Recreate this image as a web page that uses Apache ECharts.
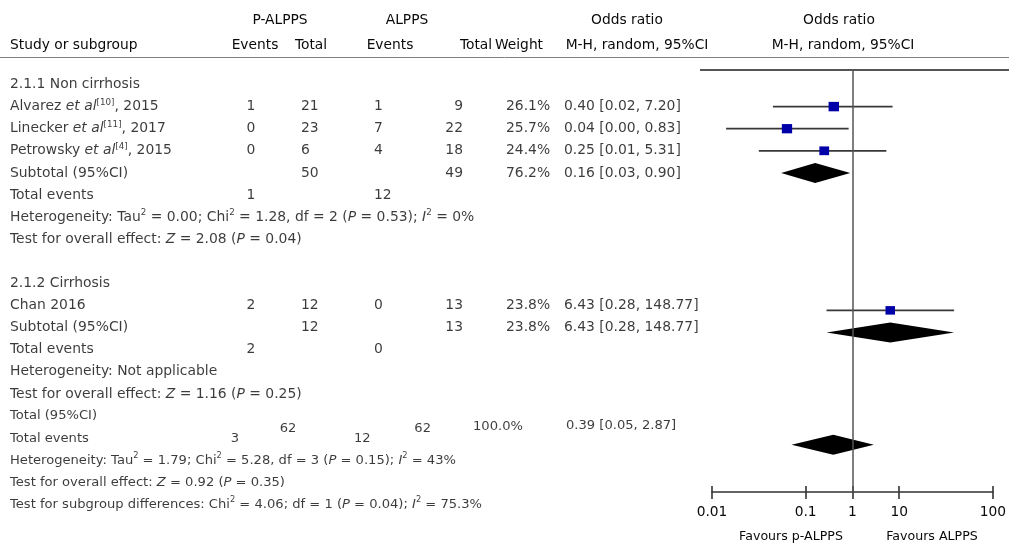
<!DOCTYPE html>
<html><head><meta charset="utf-8">
<script src="https://cdn.jsdelivr.net/npm/echarts@6/dist/echarts.min.js"></script>
<style>html,body{margin:0;padding:0;background:#fff}#c{width:1009px;height:543px}</style>
</head><body><div id="c"></div>
<script>
// ---------------- data ----------------
const studyNames = ['Alvarez {i|et al}{s|[10]}, 2015', 'Linecker {i|et al}{s|[11]}, 2017', 'Petrowsky {i|et al}{s|[4]}, 2015', 'Chan 2016'];
const studyGroup = [0, 0, 0, 1];
const pEvents = [1, 0, 0, 2];
const pTotal = [21, 23, 6, 12];
const aEvents = [1, 7, 4, 0];
const aTotal = [9, 22, 18, 13];
const weights = [26.1, 25.7, 24.4, 23.8];
const orVals = [0.40, 0.04, 0.25, 6.43];
const ciLow = [0.02, 0.002, 0.01, 0.28];
const ciHigh = [7.20, 0.83, 5.31, 148.77];

const groupNames = ['2.1.1 Non cirrhosis', '2.1.2 Cirrhosis'];
const subPTotal = [50, 12];
const subATotal = [49, 13];
const subPEvents = [1, 2];
const subAEvents = [12, 0];
const subWeight = [76.2, 23.8];
const subOR = [0.16, 6.43];
const subLow = [0.03, 0.28];
const subHigh = [0.90, 148.77];
const heteroText = ['Heterogeneity: Tau{s|2} = 0.00; Chi{s|2} = 1.28, df = 2 ({i|P} = 0.53); {i|I}{s|2} = 0%', 'Heterogeneity: Not applicable'];
const effectText = ['Test for overall effect: {i|Z} = 2.08 ({i|P} = 0.04)', 'Test for overall effect: {i|Z} = 1.16 ({i|P} = 0.25)'];

const totPTotal = 62, totATotal = 62, totPEvents = 3, totAEvents = 12;
const totWeight = 100.0, totOR = 0.39, totLow = 0.05, totHigh = 2.87;
const overallText = [
  'Heterogeneity: Tau{s|2} = 1.79; Chi{s|2} = 5.28, df = 3 ({i|P} = 0.15); {i|I}{s|2} = 43%',
  'Test for overall effect: {i|Z} = 0.92 ({i|P} = 0.35)',
  'Test for subgroup differences: Chi{s|2} = 4.06; df = 1 ({i|P} = 0.04); {i|I}{s|2} = 75.3%'
];
const tickValues = [0.001, 0.1, 1, 10, 1000];
const tickLabels = ['0.01', '0.1', '1', '10', '100'];

// ---------------- layout ----------------
const FONT = 'DejaVu Sans', TXT = '#0a0a0a';
const FS_HDR = 13.8, FS_GRP = 13.9, FS_TOT = 13.1, FS_FAV = 12.6;
const ROW0 = 84.5, ROWH = 22.1;
const rowAt = px => (px - ROW0) / ROWH;
const PLOT_TOP = 70, PLOT_BOTTOM = 492;
const col = { study: 10, pEv: 251, pTot: 301, aEv: 374, aTot: 463, w: 506, or: 564 };
const totCol = { pEv: 235, pTot: 288, aEv: 354, aTot: 431, w: 473, or: 566 };
const fmt2 = v => v.toFixed(2);
const ciStr = (o, l, h) => fmt2(o) + ' [' + fmt2(l) + ', ' + fmt2(h) + ']';

const richFor = fs => ({
  i: { fontFamily: FONT, fontSize: fs, fontStyle: 'italic', color: TXT },
  s: { fontFamily: FONT, fontSize: fs * 0.63, color: TXT, verticalAlign: 'top', lineHeight: 10 }
});
const cells = { left: [], center: [], right: [] };
let curFS = FS_GRP;
const add = (x, row, t, al) => cells[al || 'left'].push({
  value: [x, row], t: String(t), label: { fontSize: curFS, rich: richFor(curFS) }
});
const studyPts = [], diamondPts = [];
const groupMarkShift = [0, 0.22];

let r = 0;
for (let g = 0; g < groupNames.length; g++) {
  add(col.study, r++, groupNames[g]);
  for (let i = 0; i < studyNames.length; i++) {
    if (studyGroup[i] !== g) continue;
    add(col.study, r, studyNames[i]);
    add(col.pEv, r, pEvents[i], 'center');
    add(col.pTot, r, pTotal[i]);
    add(col.aEv, r, aEvents[i]);
    add(col.aTot, r, aTotal[i], 'right');
    add(col.w, r, weights[i].toFixed(1) + '%');
    add(col.or, r, ciStr(orVals[i], ciLow[i], ciHigh[i]));
    studyPts.push([ciLow[i], ciHigh[i], orVals[i], r + groupMarkShift[g], weights[i]]);
    r++;
  }
  add(col.study, r, 'Subtotal (95%CI)');
  add(col.pTot, r, subPTotal[g]);
  add(col.aTot, r, subATotal[g], 'right');
  add(col.w, r, subWeight[g].toFixed(1) + '%');
  add(col.or, r, ciStr(subOR[g], subLow[g], subHigh[g]));
  diamondPts.push([subLow[g], subHigh[g], subOR[g], r + groupMarkShift[g]]);
  r++;
  add(col.study, r, 'Total events');
  add(col.pEv, r, subPEvents[g], 'center');
  add(col.aEv, r, subAEvents[g]);
  r++;
  add(col.study, r++, heteroText[g]);
  add(col.study, r++, effectText[g]);
  if (g === 0) r++;
}
// overall
curFS = FS_TOT;
add(col.study, r, 'Total (95%CI)');
add(totCol.pTot, r + 0.55, totPTotal, 'center');
add(totCol.aTot, r + 0.55, totATotal, 'right');
add(totCol.w, r + 0.5, totWeight.toFixed(1) + '%');
add(totCol.or, r + 0.45, ciStr(totOR, totLow, totHigh));
r++;
add(col.study, r, 'Total events');
add(totCol.pEv, r, totPEvents, 'center');
add(totCol.aEv, r, totAEvents);
diamondPts.push([totLow, totHigh, totOR, r + 0.3]);
r++;
overallText.forEach(t => add(col.study, r++, t));

const textSeries = al => ({
  type: 'scatter', xAxisIndex: 0, yAxisIndex: 0, symbolSize: 0, silent: true, clip: false,
  data: cells[al],
  label: {
    show: true, position: 'inside', align: al, verticalAlign: 'middle',
    fontFamily: FONT, fontSize: FS_GRP, color: TXT, lineHeight: 17,
    formatter: p => p.data.t, rich: richFor(FS_GRP)
  }
});

const chart = echarts.init(document.getElementById('c'), null, { renderer: 'canvas' });
const hdr = (x, y, t, al, fs) => ({ type: 'text', x: x, y: y, silent: true,
  style: { text: t, fill: TXT, font: (fs || FS_HDR) + 'px "' + FONT + '"', textAlign: al || 'center', textVerticalAlign: 'middle' } });
const tickFmt = v => {
  const k = tickValues.findIndex(t => Math.abs(Math.log10(t) - Math.log10(v)) < 1e-6);
  return k >= 0 ? tickLabels[k] : '';
};
const plotH = PLOT_BOTTOM - PLOT_TOP;

chart.setOption({
  animation: false,
  backgroundColor: '#fff',
  grid: [
    { left: 0, top: 0, width: 1009, height: 543 },
    { left: 712, top: PLOT_TOP, width: 285, height: plotH }
  ],
  xAxis: [
    { type: 'value', gridIndex: 0, min: 0, max: 1009, show: false },
    { type: 'log', logBase: 10, gridIndex: 1, min: 0.001, max: 1000, position: 'bottom',
      axisLine: { show: true, onZero: false, lineStyle: { color: '#333', width: 1.6 } },
      axisTick: { show: true, customValues: tickValues, length: 7, lineStyle: { color: '#333', width: 1.6 } },
      axisLabel: { show: true, customValues: tickValues, formatter: tickFmt, margin: 13,
        fontFamily: FONT, fontSize: FS_HDR, color: TXT },
      splitLine: { show: false }, minorTick: { show: false } },
    { type: 'log', logBase: 10, gridIndex: 1, min: 0.001, max: 1000, position: 'top', offset: -plotH,
      axisLine: { show: false, onZero: false },
      axisTick: { show: true, customValues: tickValues, length: 6, lineStyle: { color: '#333', width: 1.6 } },
      axisLabel: { show: false }, splitLine: { show: false }, minorTick: { show: false } }
  ],
  yAxis: [
    { type: 'value', gridIndex: 0, inverse: true, min: rowAt(0), max: rowAt(543), show: false },
    { type: 'value', gridIndex: 1, inverse: true, min: rowAt(PLOT_TOP), max: rowAt(PLOT_BOTTOM), show: false }
  ],
  graphic: [
    { type: 'line', silent: true, shape: { x1: 0, y1: 57.5, x2: 1009, y2: 57.5 }, style: { stroke: '#808080', lineWidth: 1 } },
    { type: 'line', silent: true, shape: { x1: 700, y1: 70, x2: 1009, y2: 70 }, style: { stroke: '#555', lineWidth: 2 } },
    hdr(280, 20, 'P-ALPPS'), hdr(407, 20, 'ALPPS'), hdr(627, 20, 'Odds ratio'), hdr(839, 20, 'Odds ratio'),
    hdr(10, 45, 'Study or subgroup', 'left'), hdr(255, 45, 'Events'), hdr(311, 45, 'Total'),
    hdr(390, 45, 'Events'), hdr(476, 45, 'Total'), hdr(519, 45, 'Weight'),
    hdr(637, 45, 'M-H, random, 95%CI'), hdr(843, 45, 'M-H, random, 95%CI'),
    hdr(791, 537, 'Favours p-ALPPS', 'center', FS_FAV), hdr(932, 537, 'Favours ALPPS', 'center', FS_FAV)
  ],
  series: [
    textSeries('left'), textSeries('center'), textSeries('right'),
    {
      type: 'custom', xAxisIndex: 1, yAxisIndex: 1, silent: true, clip: false,
      encode: { x: [0, 1, 2], y: 3 },
      data: studyPts,
      renderItem: (params, api) => {
        const row = api.value(3);
        const a = api.coord([api.value(0), row]);
        const b = api.coord([api.value(1), row]);
        const c = api.coord([api.value(2), row]);
        const s = api.value(4) * 0.4;
        return { type: 'group', children: [
          { type: 'line', shape: { x1: a[0], y1: a[1], x2: b[0], y2: b[1] }, style: { stroke: '#383838', lineWidth: 1.8 } },
          { type: 'rect', shape: { x: c[0] - s / 2, y: c[1] - s / 2 + 0.5, width: s, height: s - 1 }, style: { fill: '#0000a8' } }
        ] };
      },
      markLine: {
        silent: true, symbol: ['none', 'none'], label: { show: false },
        lineStyle: { color: '#555', width: 1.5, type: 'solid' },
        data: [{ xAxis: 1 }]
      }
    },
    {
      type: 'custom', xAxisIndex: 1, yAxisIndex: 1, silent: true, clip: false,
      encode: { x: [0, 1, 2], y: 3 },
      data: diamondPts,
      renderItem: (params, api) => {
        const row = api.value(3);
        const a = api.coord([api.value(0), row]);
        const b = api.coord([api.value(1), row]);
        const c = api.coord([api.value(2), row]);
        const h = 10;
        return { type: 'polygon', shape: { points: [[a[0], a[1]], [c[0], c[1] - h], [b[0], b[1]], [c[0], c[1] + h]] },
          style: { fill: '#000' } };
      }
    }
  ]
});
</script>
</body></html>
